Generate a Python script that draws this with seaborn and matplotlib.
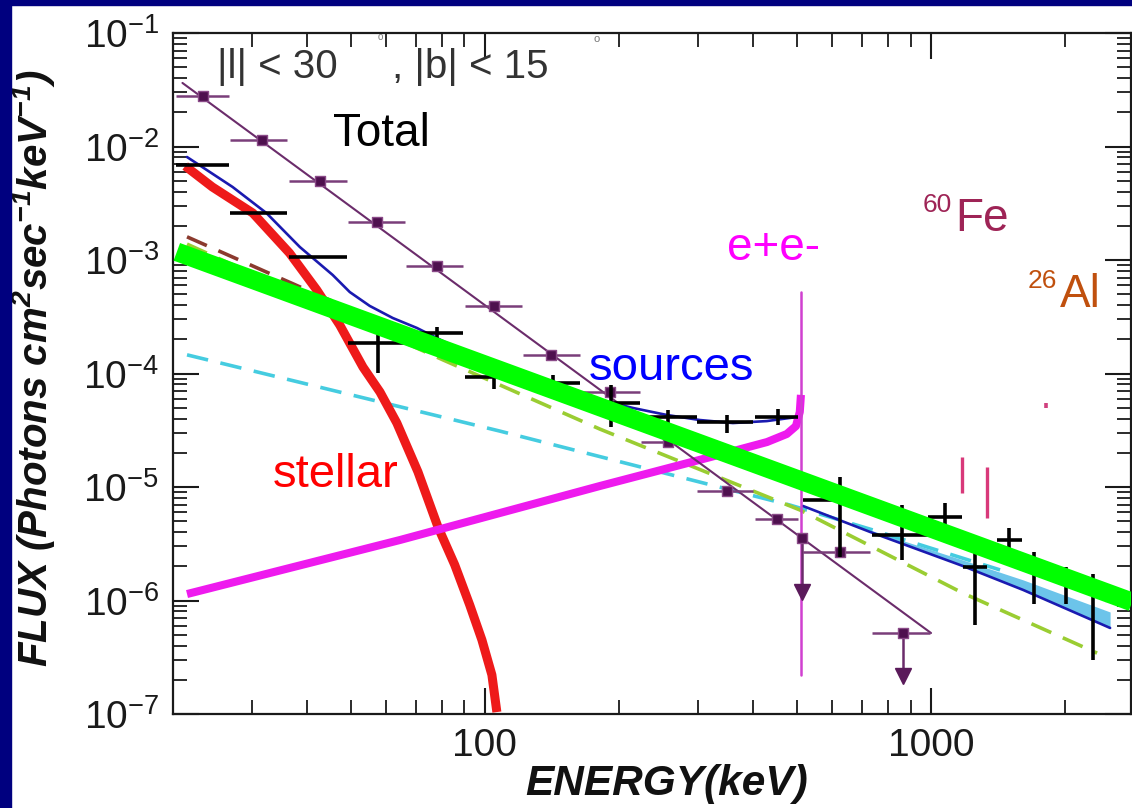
import numpy as np
import matplotlib
matplotlib.use("Agg")
import matplotlib.pyplot as plt
from matplotlib.patches import Rectangle
from matplotlib.ticker import LogLocator, NullFormatter
import seaborn as sns

# ---- values (energy keV, flux ph cm-2 s-1 keV-1) ----

# total spectrum, black crosses
tot_e = [23.3, 31.1, 42.2, 57.5, 78.1, 104.8, 142, 191.7, 257, 349, 454,
         625, 861, 1075, 1255, 1496, 1702, 2008, 2308]
tot_f = [6.87e-3, 2.59e-3, 1.06e-3, 1.86e-4, 2.28e-4, 9.31e-5, 8.24e-5, 5.50e-5,
         4.14e-5, 3.74e-5, 4.14e-5, 7.67e-6, 3.77e-6, 5.45e-6, 1.97e-6, 3.41e-6,
         1.93e-6, 1.58e-6, 1.29e-6]
tot_f_lo = [6.87e-3, 2.59e-3, 1.06e-3, 1.01e-4, 1.97e-4, 7.30e-5, 7.01e-5, 3.38e-5,
            3.52e-5, 2.99e-5, 3.52e-5, 2.42e-6, 2.27e-6, 4.02e-6, 6.08e-7, 2.42e-6,
            9.31e-7, 9.31e-7, 2.99e-7]
tot_f_hi = [6.87e-3, 2.59e-3, 1.06e-3, 2.41e-4, 2.57e-4, 1.12e-4, 9.70e-5, 7.92e-5,
            4.77e-5, 4.31e-5, 4.86e-5, 1.22e-5, 6.93e-6, 7.23e-6, 3.08e-6, 4.36e-6,
            2.67e-6, 1.97e-6, 1.71e-6]
tot_e_lo = [20.3, 26.8, 36.4, 49.3, 66.5, 90.2, 121.7, 166, 223.8, 298.8, 403,
            516, 737.6, 984.7, 1180, 1406, 1600, 1887, 2169]
tot_e_hi = [26.7, 36.0, 49.0, 66.2, 89.3, 121, 163, 222.6, 298.8, 398.9, 503,
            730, 995, 1173, 1335, 1600, 1810, 2136, 2455]

# purple squares
pur_e = [23.4, 31.6, 42.7, 57.3, 78.1, 104.8, 141, 190.6, 257, 349, 452, 625]
pur_f = [2.79e-2, 1.14e-2, 4.97e-3, 2.16e-3, 8.85e-4, 3.94e-4, 1.46e-4, 6.87e-5,
         2.49e-5, 9.22e-6, 5.22e-6, 2.67e-6]
pur_e_lo = [20.3, 26.8, 36.4, 49.3, 66.5, 90.2, 121.7, 166, 223.8, 298.8, 403, 516]
pur_e_hi = [26.7, 36.0, 49.0, 66.2, 89.3, 121, 163, 222.6, 298.8, 398.9, 503, 730]
# purple upper limits
ul_e = [514, 865]
ul_f = [3.56e-6, 5.17e-7]
ul_tip = [1.19e-6, 2.16e-7]
ul_e_lo = [514, 737.6]
ul_e_hi = [514, 995]
# purple power law
pl_e = [21.0, 1000]
pl_f = [3.63e-2, 5.17e-7]

# stellar (red)
stel_e = [21.3, 24.5, 30.2, 36.5, 42.0, 47.3, 53.3, 58.2, 63.5, 70.8, 78.5,
          85.6, 92.5, 98.5, 103.7, 106.4]
stel_f = [6.73e-3, 4.40e-3, 2.59e-3, 1.15e-3, 5.45e-4, 2.67e-4, 1.14e-4, 6.87e-5,
          3.66e-5, 1.36e-5, 4.45e-6, 2.06e-6, 9.12e-7, 4.49e-7, 2.21e-7, 1.04e-7]

# sources (blue), below and above 511 keV
src_e = [21.5, 27.2, 32.4, 38.5, 45.6, 49.8, 55.2, 62.2, 70.4, 100, 149.6, 181,
         214.7, 255.9, 303.4, 359.7, 428.7, 500.7, 511]
src_f = [8.08e-3, 4.40e-3, 2.59e-3, 1.30e-3, 7.38e-4, 5.22e-4, 3.94e-4, 3.08e-4,
         2.52e-4, 1.26e-4, 7.16e-5, 5.85e-5, 4.97e-5, 4.31e-5, 3.89e-5, 3.66e-5,
         3.81e-5, 4.14e-5, 4.22e-5]
src2_e = [516, 730, 1180, 1608, 2520]
src2_f = [6.81e-6, 4.02e-6, 2.01e-6, 1.24e-6, 5.73e-7]
band_e = [730, 1180, 1608, 2520]
band_lo = [4.02e-6, 2.01e-6, 1.24e-6, 5.73e-7]
band_hi = [4.18e-6, 2.27e-6, 1.52e-6, 7.92e-7]

# dashed components
cyan_e = [21.5, 108, 483, 741, 1428]
cyan_f = [1.46e-4, 3.11e-5, 6.93e-6, 4.18e-6, 1.86e-6]
ygr_e = [21.5, 80.5, 181, 508.6, 1180, 2356]
ygr_f = [1.38e-3, 1.32e-4, 3.24e-5, 6.27e-6, 1.16e-6, 3.44e-7]
brn_e = [21.5, 71.5]
brn_f = [1.60e-3, 1.97e-4]

# positronium continuum (magenta) and 511 keV line
ps_e = [21.5, 64.5, 181, 360, 429, 475, 498, 508, 511]
ps_f = [1.14e-6, 3.41e-6, 1.02e-5, 2.07e-5, 2.49e-5, 2.93e-5, 3.44e-5, 4.58e-5, 6.48e-5]
line511_e = [511, 511]
line511_f = [5.22e-4, 2.21e-7]

# 60Fe / 26Al line marks
fe_e = [1173, 1332]
fe_lo = [8.85e-6, 5.33e-6]
fe_hi = [1.84e-5, 1.50e-5]
al_e = [1809]
al_lo = [4.97e-5]
al_hi = [5.50e-5]

# green power law
grn_e = [20.4, 2823]
grn_f = [1.18e-3, 9.7e-7]

# ---- figure ----
sns.set_style("ticks")
plt.rcParams['font.family'] = ['Liberation Sans', 'DejaVu Sans']
plt.rcParams['mathtext.fontset'] = 'custom'
plt.rcParams['mathtext.rm'] = 'Liberation Sans'
plt.rcParams['mathtext.it'] = 'Liberation Sans:italic'
plt.rcParams['mathtext.bf'] = 'Liberation Sans:bold:italic'

W, H = 1132, 808
fig = plt.figure(figsize=(W / 100, H / 100), dpi=100, facecolor='white')
ax = fig.add_axes([173 / W, 94 / H, 958 / W, 681 / H])
ax.set_xscale('log')
ax.set_yscale('log')


def curve(x, y, z, **kw):
    sns.lineplot(x=x, y=y, ax=ax, estimator=None, sort=False, legend=False,
                 zorder=z, **kw)


ax.fill_between(band_e, band_lo, band_hi, color='#6CC4EA', lw=0, zorder=1)
curve(cyan_e, cyan_f, 2, color='#45CCE0', linewidth=2.6, linestyle=(0, (6, 3.5)))
curve(ygr_e, ygr_f, 2, color='#9ACD32', linewidth=2.6, linestyle=(0, (6, 3.5)))
curve(brn_e, brn_f, 2, color='#8B3A2E', linewidth=2.6, linestyle=(0, (6, 3.5)))
curve(src_e, src_f, 3, color='#1A1AB0', linewidth=1.9)
curve(src2_e, src2_f, 3, color='#1A1AB0', linewidth=1.9)
curve(stel_e, stel_f, 4, color='#EE1A1A', linewidth=6.5, solid_capstyle='butt')
curve(ps_e, ps_f, 5, color='#EE1AEE', linewidth=5.8, solid_capstyle='butt')
curve(line511_e, line511_f, 5, color='#D040D0', linewidth=1.8)

# purple points
pur_col = '#5A1A5A'
curve(pl_e, pl_f, 6, color='#6B2C6B', linewidth=1.5)
ax.errorbar(pur_e, pur_f,
            xerr=[np.subtract(pur_e, pur_e_lo), np.subtract(pur_e_hi, pur_e)],
            fmt='none', ecolor='#7A3E7A', elinewidth=1.8, capsize=0, zorder=6)
ax.errorbar(ul_e, ul_f,
            xerr=[np.subtract(ul_e, ul_e_lo), np.subtract(ul_e_hi, ul_e)],
            fmt='none', ecolor='#7A3E7A', elinewidth=1.8, capsize=0, zorder=6)
for e, f, t in zip(ul_e, ul_f, ul_tip):
    ax.plot([e, e], [f, t], color='#6B2C6B', lw=1.8, zorder=6)
    ax.plot([e], [t], marker='v', ms=11, color=pur_col, zorder=6)
sns.scatterplot(x=pur_e + ul_e, y=pur_f + ul_f, ax=ax, marker='s', s=55,
                color='#4E104E', edgecolor='#8A4A88', linewidth=1, zorder=7)

# total black crosses
ax.errorbar(tot_e, tot_f,
            xerr=[np.subtract(tot_e, tot_e_lo), np.subtract(tot_e_hi, tot_e)],
            yerr=[np.subtract(tot_f, tot_f_lo), np.subtract(tot_f_hi, tot_f)],
            fmt='none', ecolor='black', elinewidth=2.6, capsize=0, zorder=8)

# line marks
ax.vlines(fe_e, fe_lo, fe_hi, color='#D8397A', lw=2.4, zorder=8)
ax.vlines(al_e, al_lo, al_hi, color='#D0407E', lw=2.6, zorder=8)

# green power law on top
curve(grn_e, grn_f, 10, color='#00FF00', linewidth=13.5, solid_capstyle='butt')

ax.set_xlim(20, 2807)
ax.set_ylim(1e-7, 1e-1)
ax.set_xticks([100, 1000])
ax.set_xticklabels(['100', '1000'])
ax.xaxis.set_minor_locator(LogLocator(base=10, subs=np.arange(2, 10), numticks=50))
ax.yaxis.set_minor_locator(LogLocator(base=10, subs=np.arange(2, 10), numticks=50))
ax.xaxis.set_minor_formatter(NullFormatter())
ax.yaxis.set_minor_formatter(NullFormatter())
ax.tick_params(which='both', direction='in', top=True, right=True, colors='#1a1a1a')
ax.tick_params(which='major', length=19, width=1.5, labelsize=28, pad=10)
ax.tick_params(which='minor', length=10, width=1.3)
for s in ax.spines.values():
    s.set_linewidth(1.6)
    s.set_color('#1a1a1a')
ax.set_xlabel('')
ax.set_ylabel('')


def px(x, y):
    return x / W, 1 - y / H


fig.text(*px(667, 795), 'ENERGY(keV)', ha='center', va='baseline', fontsize=30.5,
         fontweight='bold', fontstyle='italic', color='#111111')
fig.text(*px(34, 368), r'FLUX (Photons cm$^{\mathbf{2}}$sec$^{\mathbf{-1}}$keV$^{\mathbf{-1}}$)',
         ha='center', va='center', rotation=90, fontsize=29,
         fontweight='bold', fontstyle='italic', color='#111111')

# annotations
fig.text(*px(217, 78), '|l| < 30', fontsize=29, color='#333333', va='baseline')
fig.text(*px(392, 78), ', |b| < 15', fontsize=29, color='#333333', va='baseline')
fig.text(*px(597, 42), 'o', fontsize=8, color='#777777', ha='center', va='baseline')
fig.text(*px(380, 40), 'o', fontsize=7, color='#777777', ha='center', va='baseline')
fig.text(*px(333, 146), 'Total', fontsize=33, color='black', va='baseline', zorder=20)
fig.text(*px(727, 260), 'e+e-', fontsize=33, color='#FF00FF', va='baseline')
fig.text(*px(923, 212), '60', fontsize=19, color='#9E2456', va='baseline')
fig.text(*px(955, 231), 'Fe', fontsize=33, color='#9E2456', va='baseline')
fig.text(*px(1028, 288), '26', fontsize=19, color='#C0500E', va='baseline')
fig.text(*px(1060, 307), 'Al', fontsize=33, color='#C0500E', va='baseline')
fig.text(*px(589, 380), 'sources', fontsize=34, color='#0000FF', va='baseline', zorder=20)
fig.text(*px(273, 487), 'stellar', fontsize=34, color='#FF0000', va='baseline', zorder=20)

# navy frame on the left and top
navy = '#00007F'
fig.add_artist(Rectangle((0, 0), 11 / W, 1, transform=fig.transFigure,
                         color=navy, zorder=30))
fig.add_artist(Rectangle((0, 1 - 5 / H), 1, 5 / H, transform=fig.transFigure,
                         color=navy, zorder=30))

fig.savefig('out.png', dpi=100, facecolor='white')
